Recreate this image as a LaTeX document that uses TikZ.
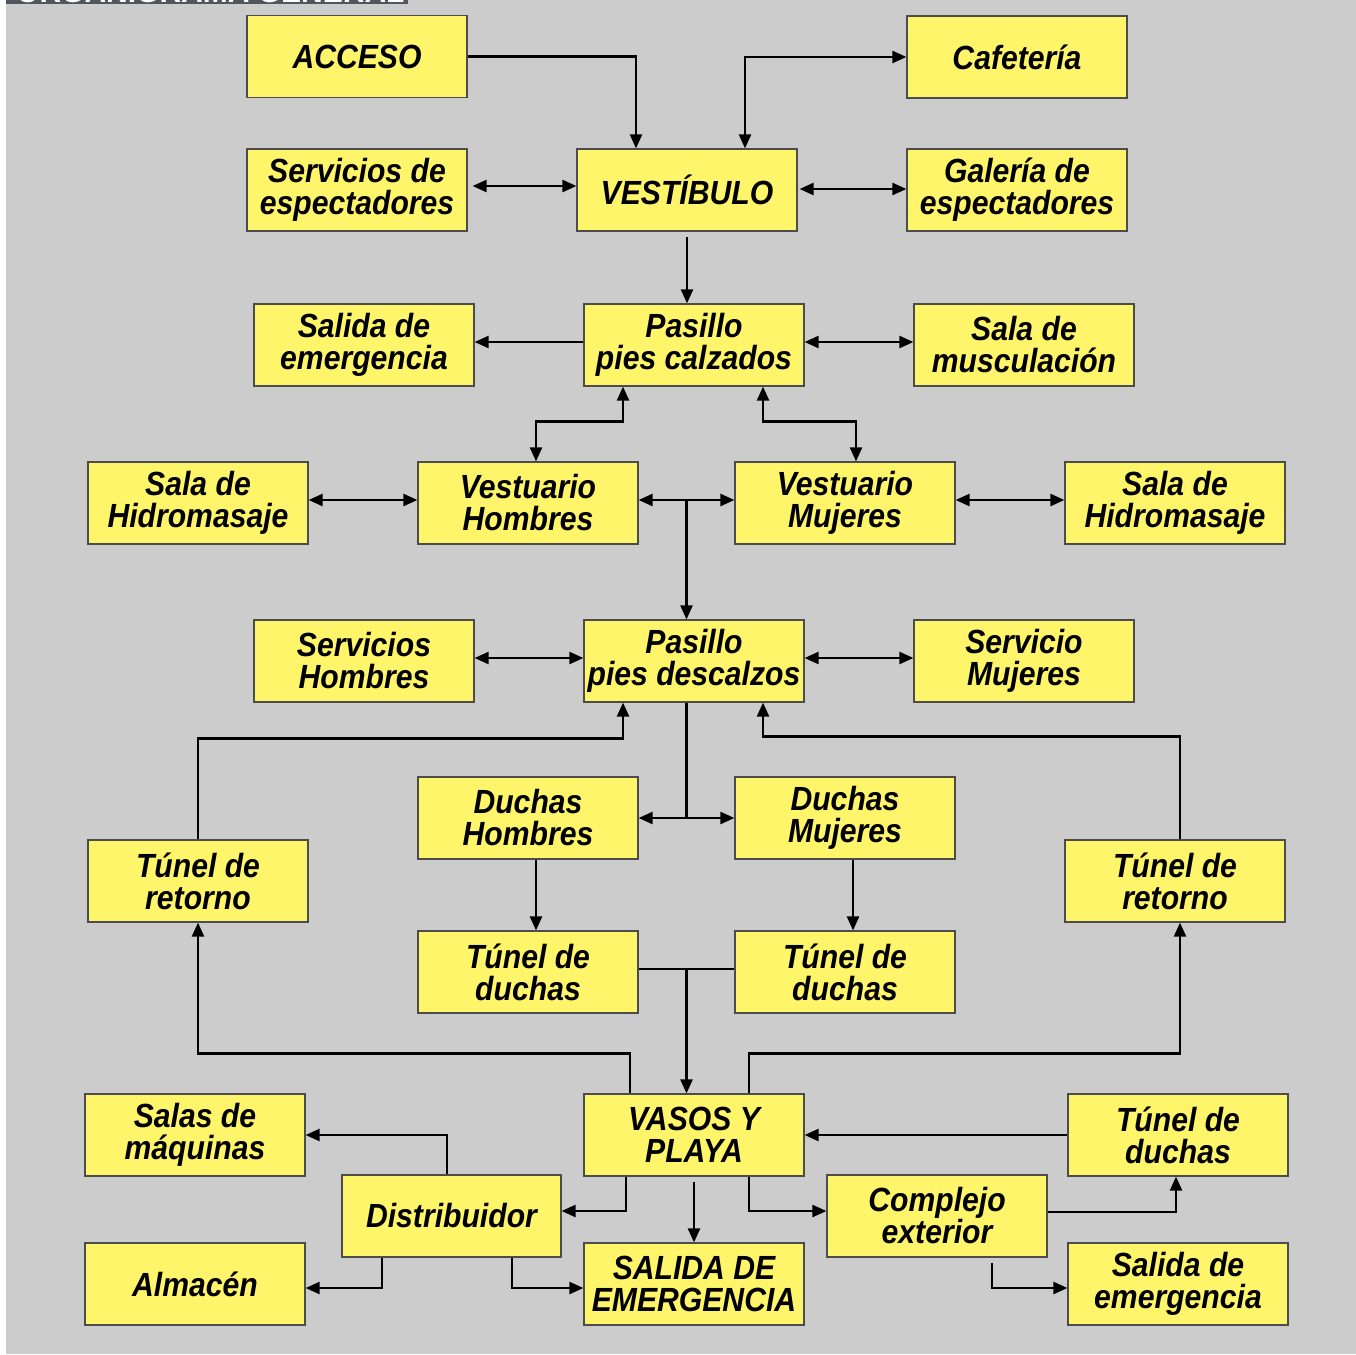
\documentclass[tikz,border=0pt]{standalone}
\usepackage{fontspec}
\usepackage{xcolor}
\usetikzlibrary{calc,arrows.meta}
\newfontfamily\cajafont[FakeStretch=0.9]{Liberation Sans}
\definecolor{fondo}{HTML}{CCCCCC}
\definecolor{amarillo}{HTML}{FFF56A}
\definecolor{titulo}{HTML}{50565C}
\tikzset{
  caja/.style={draw=black!70, line width=1.2pt, fill=amarillo, minimum width=220pt, minimum height=82pt,
    inner sep=0pt, align=center, font=\cajafont\bfseries\itshape\fontsize{33.5}{32}\selectfont},
  flecha/.style={line width=2.4pt, -{Triangle[length=14pt,width=12pt]}},
  flechas/.style={line width=2.4pt, {Triangle[length=14pt,width=12pt]}-{Triangle[length=14pt,width=12pt]}},
  linea/.style={line width=2.4pt}
}

\begin{document}
\begin{tikzpicture}[x=1pt,y=-1pt]
\useasboundingbox (0,0) rectangle (1356,1354);
\fill[fondo] (6,0) rectangle (1356,1354);
\begin{scope}
\clip (6,0) rectangle (408,4.5);
\fill[titulo] (6,0) rectangle (408,4.5);
\node[anchor=base west, inner sep=0pt, text=white, font=\fontspec{Liberation Sans}\bfseries\fontsize{30}{30}\selectfont] (titulo) at (16,2.5) {ORGANIGRAMA GENERAL};
\end{scope}

% fila superior
\node[caja] (acceso) at (357,56.5) {ACCESO};
\node[caja] (cafeteria) at (1017,57) {Cafetería};
\node[caja] (servesp) at (357,190) {Servicios de\\espectadores};
\node[caja] (vestibulo) at (687,190) {VESTÍBULO};
\node[caja] (galeria) at (1017,190) {Galería de\\espectadores};
\node[caja] (salidaemerg) at (364,345) {Salida de\\emergencia};
\node[caja] (pcalzados) at (694,345) {Pasillo\\pies calzados};
\node[caja] (musculacion) at (1024,345) {Sala de\\musculación};
\node[caja] (hidroL) at (198,503) {Sala de\\Hidromasaje};
\node[caja] (vestH) at (528,503) {Vestuario\\Hombres};
\node[caja] (vestM) at (845,503) {Vestuario\\Mujeres};
\node[caja] (hidroR) at (1175,503) {Sala de\\Hidromasaje};
\node[caja] (servH) at (364,661) {Servicios\\Hombres};
\node[caja] (pdescalzos) at (694,661) {Pasillo\\pies descalzos};
\node[caja] (servM) at (1024,661) {Servicio\\Mujeres};
% zona de duchas
\node[caja] (retornoL) at (198,881) {Túnel de\\retorno};
\node[caja] (duchasH) at (528,818) {Duchas\\Hombres};
\node[caja] (duchasM) at (845,818) {Duchas\\Mujeres};
\node[caja] (retornoR) at (1175,881) {Túnel de\\retorno};
\node[caja] (tunelL) at (528,972) {Túnel de\\duchas};
\node[caja] (tunelM) at (845,972) {Túnel de\\duchas};
% vasos
\node[caja] (maquinas) at (195,1135) {Salas de\\máquinas};
\node[caja] (vasos) at (694,1135) {VASOS Y\\PLAYA};
\node[caja] (tunelR) at (1178,1135) {Túnel de\\duchas};
\node[caja, minimum width=219pt] (distrib) at (451.5,1216) {Distribuidor};
\node[caja] (complejo) at (937,1216) {Complejo\\exterior};
\node[caja] (almacen) at (195,1284) {Almacén};
\node[caja] (salidaEM) at (694,1284) {SALIDA DE\\EMERGENCIA};
\node[caja] (salidaR) at (1178,1284) {Salida de\\emergencia};

\coordinate (cruce1) at ($([yshift=3pt]vestH.east)!0.5!([yshift=3pt]vestM.west)$);
\coordinate (cruce2) at ($(duchasH.east)!0.5!(duchasM.west)$);
\coordinate (cruce3) at ($([yshift=3pt]tunelL.east)!0.5!([yshift=3pt]tunelM.west)$);

\draw[flecha] (acceso.east) -| ([xshift=-51pt]vestibulo.north);
\draw[flechas] (cafeteria.west) -| ([xshift=58pt]vestibulo.north);
\draw[flechas] ([shift={(5pt,4pt)}]servesp.east) -- ([yshift=4pt]vestibulo.west);
\draw[flechas] ([shift={(2pt,1pt)}]vestibulo.east) -- ([yshift=1pt]galeria.west);
\draw[flecha] ([yshift=-5pt]vestibulo.south) -- (vestibulo.south |- pcalzados.north);
\draw[flecha] ([yshift=3pt]pcalzados.west) -- ([yshift=3pt]salidaemerg.east);
\draw[flechas] ([yshift=3pt]pcalzados.east) -- ([yshift=3pt]musculacion.west);
\draw[flechas] ([xshift=-71pt]pcalzados.south) -- ++(0,35) -| ([xshift=8pt]vestH.north);
\draw[flechas] ([xshift=69pt]pcalzados.south) -- ++(0,35) -| ([xshift=11pt]vestM.north);
\draw[flechas] ([yshift=3pt]hidroL.east) -- ([yshift=3pt]vestH.west);
\draw[flechas] ([yshift=3pt]vestH.east) -- ([yshift=3pt]vestM.west);
\draw[flecha] (cruce1) -- (cruce1 |- pdescalzos.north);
\draw[flechas] ([yshift=3pt]vestM.east) -- ([yshift=3pt]hidroR.west);
\draw[flechas] ([yshift=3pt]servH.east) -- ([yshift=3pt]pdescalzos.west);
\draw[flechas] ([yshift=3pt]pdescalzos.east) -- ([yshift=3pt]servM.west);
\draw[flecha] (retornoL.north) |- ([shift={(-71pt,-36pt)}]pdescalzos.south) -- ([xshift=-71pt]pdescalzos.south);
\draw[flecha] ([xshift=5pt]retornoR.north) |- ([shift={(69pt,-34pt)}]pdescalzos.south) -- ([xshift=69pt]pdescalzos.south);
\draw[linea] (cruce1 |- pdescalzos.south) -- (cruce2);
\draw[flechas] (duchasH.east) -- (duchasM.west);
\draw[flecha] ([xshift=8pt]duchasH.south) -- ([xshift=8pt]tunelL.north);
\draw[flecha] ([xshift=8pt]duchasM.south) -- ([xshift=8pt]tunelM.north);
\draw[linea] ([yshift=3pt]tunelL.east) -- ([yshift=3pt]tunelM.west);
\draw[flecha] (cruce3) -- (cruce3 |- vasos.north);
\draw[flecha] ([xshift=-64pt]vasos.north) -- ++(0,-40) -| (retornoL.south);
\draw[flecha] ([xshift=55pt]vasos.north) -- ++(0,-40) -| ([xshift=5pt]retornoR.south);
\draw[flecha] (tunelR.west) -- (vasos.east);
\draw[flecha] ([xshift=-68pt]vasos.south) |- ([yshift=5pt]distrib.east);
\draw[flecha] ([yshift=-5pt]vasos.south) -- (salidaEM.north);
\draw[flecha] ([xshift=55pt]vasos.south) |- ([yshift=5pt]complejo.west);
\draw[flecha] ([xshift=-4.5pt]distrib.north) |- (maquinas.east);
\draw[flecha] ([xshift=-69.5pt]distrib.south) |- ([yshift=-4pt]almacen.east);
\draw[flecha] ([xshift=60.5pt]distrib.south) |- ([yshift=-4pt]salidaEM.west);
\draw[flecha] ([yshift=4pt]complejo.east) -| ([xshift=-2pt]tunelR.south);
\draw[flecha] ([shift={(55pt,-5pt)}]complejo.south) |- ([yshift=-4pt]salidaR.west);
\end{tikzpicture}
\end{document}
